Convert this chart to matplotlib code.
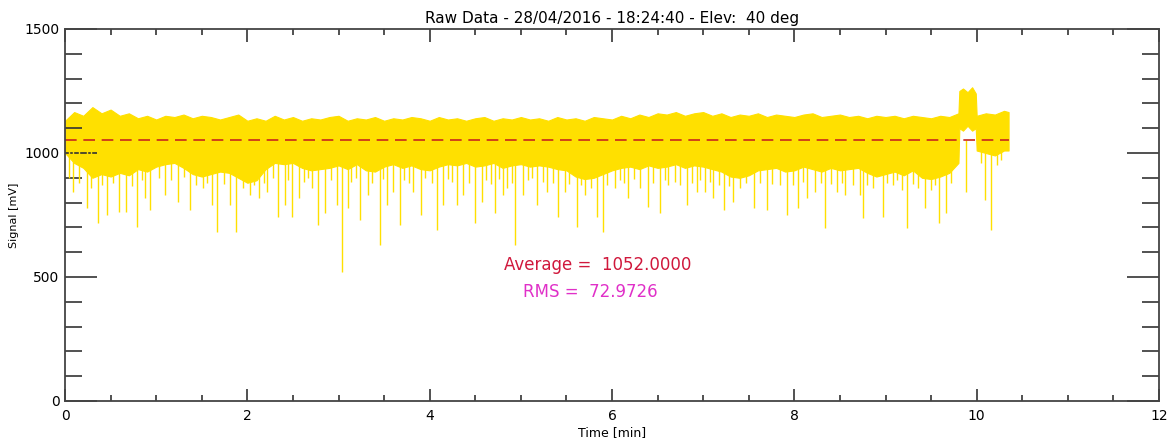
import matplotlib.pyplot as plt
from matplotlib.ticker import MultipleLocator

# envelope of the dense part of the raw signal (min, mV)
times = [0.0, 0.1, 0.2, 0.3, 0.4, 0.5, 0.6, 0.7, 0.8, 0.9,
         1.0, 1.1, 1.2, 1.3, 1.4, 1.5, 1.6, 1.7, 1.8, 1.9,
         2.0, 2.1, 2.2, 2.3, 2.4, 2.5, 2.6, 2.7, 2.8, 2.9,
         3.0, 3.1, 3.2, 3.3, 3.4, 3.5, 3.6, 3.7, 3.8, 3.9,
         4.0, 4.1, 4.2, 4.3, 4.4, 4.5, 4.6, 4.7, 4.8, 4.9,
         5.0, 5.1, 5.2, 5.3, 5.4, 5.5, 5.6, 5.7, 5.8, 5.9,
         6.0, 6.1, 6.2, 6.3, 6.4, 6.5, 6.6, 6.7, 6.8, 6.9,
         7.0, 7.1, 7.2, 7.3, 7.4, 7.5, 7.6, 7.7, 7.8, 7.9,
         8.0, 8.1, 8.2, 8.3, 8.4, 8.5, 8.6, 8.7, 8.8, 8.9,
         9.0, 9.1, 9.2, 9.3, 9.4, 9.5, 9.6, 9.7, 9.8,
         9.81, 9.85, 9.9, 9.95, 9.99, 10.0, 10.1, 10.2, 10.3, 10.35]
upper = [1130, 1165, 1150, 1185, 1160, 1175, 1150, 1160, 1140, 1150,
         1135, 1150, 1145, 1155, 1140, 1150, 1145, 1135, 1145, 1155,
         1130, 1140, 1130, 1150, 1135, 1145, 1130, 1140, 1135, 1145,
         1150, 1130, 1140, 1135, 1145, 1130, 1140, 1135, 1145, 1140,
         1130, 1145, 1135, 1140, 1130, 1140, 1145, 1130, 1140, 1135,
         1145, 1135, 1140, 1130, 1145, 1135, 1140, 1130, 1145, 1140,
         1135, 1150, 1140, 1155, 1145, 1160, 1155, 1165, 1150, 1160,
         1165, 1150, 1160, 1145, 1155, 1150, 1160, 1145, 1155, 1150,
         1145, 1155, 1160, 1145, 1150, 1155, 1145, 1150, 1140, 1150,
         1145, 1150, 1140, 1150, 1145, 1140, 1150, 1145, 1160,
         1250, 1260, 1245, 1265, 1240, 1150, 1160, 1155, 1170, 1165]
lower = [1000, 960, 940, 900, 915, 905, 920, 910, 935, 925,
         945, 955, 960, 940, 915, 905, 915, 925, 920, 900,
         880, 890, 935, 960, 955, 960, 940, 930, 935, 940,
         950, 935, 955, 930, 925, 945, 955, 940, 950, 935,
         930, 945, 955, 950, 960, 945, 950, 960, 940, 950,
         955, 945, 950, 945, 935, 930, 905, 895, 900, 915,
         930, 940, 945, 935, 950, 940, 945, 955, 940, 950,
         945, 935, 925, 905, 900, 910, 930, 935, 940, 925,
         930, 945, 935, 925, 940, 930, 935, 940, 920, 905,
         915, 925, 910, 930, 900, 895, 905, 920, 960,
         1100, 1090, 1110, 1090, 1100, 1010, 1000, 990, 1010, 1010]

# deep downward spikes (time, minimum value)
spike_t = [0.09, 0.24, 0.36, 0.46, 0.59, 0.67, 0.79, 0.88, 0.93, 1.10,
           1.24, 1.37, 1.51, 1.61, 1.67, 1.81, 1.88, 2.03, 2.13, 2.22,
           2.34, 2.41, 2.49, 2.57, 2.71, 2.78, 2.85, 2.98, 3.04, 3.10,
           3.24, 3.32, 3.45, 3.53, 3.60, 3.67, 3.82, 3.90, 4.08, 4.15,
           4.30, 4.37, 4.50, 4.57, 4.72, 4.80, 4.85, 4.94, 5.02, 5.18,
           5.29, 5.41, 5.48, 5.62, 5.70, 5.83, 5.90, 6.03, 6.18, 6.31,
           6.39, 6.53, 6.61, 6.75, 6.82, 6.93, 7.02, 7.11, 7.23, 7.33,
           7.56, 7.70, 7.84, 7.92, 8.04, 8.14, 8.23, 8.34, 8.47, 8.56,
           8.64, 8.72, 8.75, 8.97, 9.18, 9.24, 9.43, 9.59, 9.66, 9.88,
           10.09, 10.16]
spike_v = [843, 778, 717, 750, 762, 762, 702, 818, 770, 830,
           802, 770, 859, 790, 681, 790, 681, 830, 818, 843,
           742, 790, 742, 818, 859, 710, 758, 790, 520, 778,
           730, 830, 629, 790, 843, 710, 843, 750, 690, 790,
           790, 830, 717, 802, 758, 830, 859, 629, 830, 790,
           843, 742, 843, 702, 830, 742, 681, 859, 818, 859,
           782, 758, 871, 871, 790, 843, 843, 818, 770, 802,
           778, 770, 871, 750, 778, 818, 843, 698, 843, 830,
           871, 830, 738, 742, 851, 698, 778, 717, 758, 843,
           810, 690]

# shallow dips just below the dense band
dip_t = [0.04, 0.15, 0.28, 0.41, 0.53, 0.73, 0.84, 1.03, 1.16, 1.30,
         1.44, 1.56, 1.74, 1.95, 2.07, 2.18, 2.28, 2.45, 2.62, 2.66,
         2.92, 3.14, 3.19, 3.37, 3.49, 3.72, 3.77, 3.95, 4.02, 4.20,
         4.25, 4.43, 4.62, 4.67, 4.76, 4.90, 5.08, 5.12, 5.24, 5.35,
         5.53, 5.66, 5.77, 5.95, 6.09, 6.13, 6.24, 6.45, 6.58, 6.69,
         6.88, 6.97, 7.07, 7.17, 7.28, 7.40, 7.47, 7.62, 7.76, 7.98,
         8.09, 8.29, 8.40, 8.52, 8.80, 8.86, 9.02, 9.08, 9.13, 9.30,
         9.36, 9.50, 9.54, 9.72, 10.05, 10.22, 10.27]
dip_v = [900, 880, 860, 870, 880, 865, 890, 900, 890, 905,
         870, 880, 875, 860, 870, 880, 900, 890, 885, 900,
         890, 885, 900, 880, 895, 890, 880, 900, 880, 895,
         885, 880, 890, 875, 895, 880, 890, 900, 885, 880,
         875, 870, 860, 870, 890, 880, 895, 880, 890, 885,
         880, 890, 885, 870, 865, 860, 880, 880, 875, 870,
         885, 880, 875, 880, 870, 860, 880, 870, 890, 875,
         860, 850, 870, 880, 960, 950, 970]

average = 1052.0
rms = 72.9726

yellow = '#FFE000'

fig = plt.figure(figsize=(11.72, 4.46), dpi=100)
ax = fig.add_axes([0.0555, 0.1009, 0.9334, 0.8341])

ax.fill_between(times, lower, upper, color=yellow, linewidth=0.8, edgecolor=yellow)
ax.vlines(dip_t, dip_v, average, color=yellow, linewidth=1.0)
ax.vlines(spike_t, spike_v, average, color=yellow, linewidth=1.0)
ax.plot([times[0], times[-1]], [average, average], color='#C8281E',
        linestyle=(0, (7, 4)), linewidth=1.2)

ax.text(5.84, 548, 'Average =  %.4f' % average, color='#D0183C', fontsize=12,
        ha='center', va='center')
ax.text(5.76, 440, 'RMS =  %.4f' % rms, color='#E030C8', fontsize=12,
        ha='center', va='center')

ax.set_xlim(0, 12)
ax.set_ylim(0, 1500)
ax.xaxis.set_major_locator(MultipleLocator(2))
ax.xaxis.set_minor_locator(MultipleLocator(0.5))
ax.yaxis.set_major_locator(MultipleLocator(500))
ax.yaxis.set_minor_locator(MultipleLocator(100))
ax.tick_params(which='both', direction='in', top=True, right=True,
               colors='#333333', labelsize=10, width=1.2)
ax.tick_params(axis='x', which='major', length=9, pad=6)
ax.tick_params(axis='x', which='minor', length=4)
ax.tick_params(axis='y', which='major', length=23, pad=4)
ax.tick_params(axis='y', which='minor', length=12)
ax.tick_params(labelcolor='black')
for s in ax.spines.values():
    s.set_color('#444444')
    s.set_linewidth(1.3)

ax.set_title('Raw Data - 28/04/2016 - 18:24:40 - Elev:  40 deg', fontsize=11, pad=4)
ax.set_xlabel('Time [min]', fontsize=9, labelpad=2)
ax.set_ylabel('Signal [mV]', fontsize=8, labelpad=4)

fig.savefig('out.png', dpi=100)
